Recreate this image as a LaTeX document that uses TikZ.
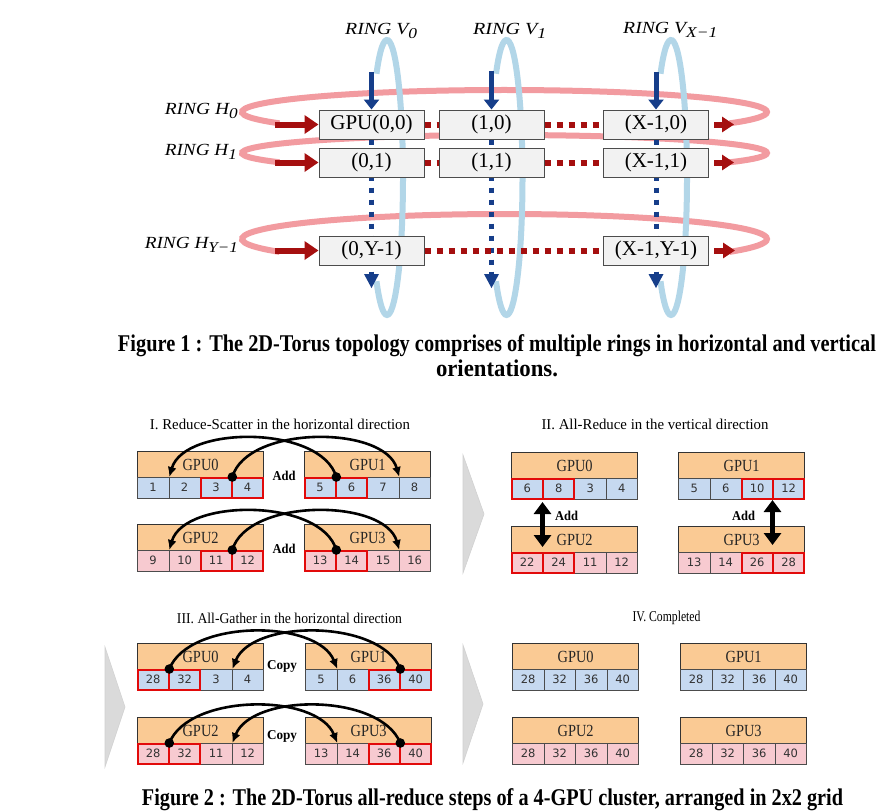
\documentclass[tikz,border=0pt]{standalone}
\usepackage{fontspec}
\usepackage{graphicx}
\setmainfont{Liberation Serif}
\newfontfamily\cellfont{DejaVu Sans}
\usetikzlibrary{arrows.meta,calc}
\definecolor{ringred}{RGB}{242,155,160}
\definecolor{ringblue}{RGB}{178,214,232}
\definecolor{darkred}{RGB}{165,15,15}
\definecolor{darkblue}{RGB}{22,62,138}
\definecolor{boxgray}{RGB}{242,242,242}
\definecolor{gpuorange}{RGB}{250,202,148}
\definecolor{cellblue}{RGB}{198,217,240}
\definecolor{cellpink}{RGB}{247,202,208}
\definecolor{cellred}{RGB}{226,10,10}
\definecolor{chevgray}{RGB}{218,218,218}
\pgfdeclarelayer{paper}
\pgfdeclarelayer{back}
\pgfdeclarelayer{mid}
\pgfsetlayers{paper,back,mid,main}
\newcommand{\fitw}[3]{\resizebox{#1pt}{\height}{\fontsize{#2}{#2}\selectfont #3}}
\newcommand{\rsub}[1]{\raisebox{-4.5pt}{\fontsize{15}{15}\selectfont\itshape #1}}
\newcommand{\gpulab}[1]{\resizebox{36pt}{\height}{\fontsize{17}{17}\selectfont #1}}
\newcommand{\gpublk}[6]{%
  \node[gpubox, anchor=north west] (#1) at (#2,#3) {\gpulab{#4}};
  \foreach \v/\r [count=\i] in {#6} {
    \node[cellbox, fill=#5, anchor=north west] (#1c\i) at ({#2+(\i-1)*31.5},{#3+26}) {\v};
  }
  \foreach \v/\r [count=\i] in {#6} {
    \ifnum\r=1\relax
      \draw[redcell] ([shift={(0.6pt,-0.6pt)}]#1c\i.north west) rectangle ([shift={(-0.6pt,0.6pt)}]#1c\i.south east);
    \fi
  }
}
\begin{document}
\begin{tikzpicture}[x=1pt,y=-1pt,
  gbox/.style={draw=black!70, fill=boxgray, line width=1pt, minimum width=105pt, minimum height=29pt, inner sep=0pt, font=\fontsize{21}{24}\selectfont},
  lbl/.style={inner sep=0pt},
  hring/.style={draw=ringred, line width=6pt},
  vring/.style={draw=ringblue, line width=6pt},
  redarrow/.style={draw=darkred, line width=6pt, -{Triangle[width=18pt,length=14pt]}},
  redarrowr/.style={draw=darkred, line width=6pt, -{Triangle[width=15pt,length=12pt]}},
  reddot/.style={draw=darkred, line width=6pt, dash pattern=on 6pt off 6pt},
  bluearrow/.style={draw=darkblue, line width=5pt, -{Triangle[width=15pt,length=10pt]}},
  bluedot/.style={draw=darkblue, line width=5pt, dash pattern=on 5pt off 7pt},
  gpubox/.style={draw=black!80, line width=1.2pt, fill=gpuorange, minimum width=126pt, minimum height=26pt, inner sep=0pt, text=black!85},
  cellbox/.style={draw=black!70, line width=0.8pt, minimum width=31.5pt, minimum height=20.5pt, inner sep=0pt, font=\cellfont\fontsize{11.5}{12}\selectfont, text=black!80},
  redcell/.style={draw=cellred, line width=1.8pt},
  arcarrow/.style={draw=black, line width=2.6pt, -{Latex[length=10pt,width=9pt]}},
  dblarrow/.style={draw=black, line width=5pt, {Triangle[width=17pt,length=12pt]}-{Triangle[width=17pt,length=12pt]}},
  chev/.style={fill=chevgray, draw=black!18, line width=0.6pt},
  ttl/.style={inner sep=0pt},
  bold/.style={inner sep=0pt, font=\bfseries}
]
\useasboundingbox (0,0) rectangle (893,811);
\begin{pgfonlayer}{paper}
  \fill[white] (0,0) rectangle (893,811);
\end{pgfonlayer}

% ================= Figure 1 =================
\begin{pgfonlayer}{back}
  % horizontal rings: open arcs running round the back, from the left arrow to the right arrow
  \draw[hring] (504.5,112) ++(149:262.5 and 22) arc[start angle=149, end angle=391, x radius=262.5, y radius=22];
  \draw[hring] (504.5,153) ++(149:262.5 and 18) arc[start angle=149, end angle=391, x radius=262.5, y radius=18];
  \draw[hring] (504.5,239) ++(149:262.5 and 25) arc[start angle=149, end angle=391, x radius=262.5, y radius=25];
  % vertical rings: open arcs, from the top arrow round the right side to the bottom arrowhead
  \draw[vring] (387,177.5) ++(-131:16 and 137.5) arc[start angle=-131, end angle=131, x radius=16, y radius=137.5];
  \draw[vring] (506.5,177.5) ++(-131:16 and 137.5) arc[start angle=-131, end angle=131, x radius=16, y radius=137.5];
  \draw[vring] (671,177.5) ++(-131:16 and 137.5) arc[start angle=-131, end angle=131, x radius=16, y radius=137.5];
\end{pgfonlayer}

\node[gbox] (b00) at (371.5,124.5) {GPU(0,0)};
\node[gbox] (b10) at (491.5,124.5) {(1,0)};
\node[gbox] (bX0) at (656,124.5) {(X-1,0)};
\node[gbox] (b01) at (371.5,162.5) {(0,1)};
\node[gbox] (b11) at (491.5,162.5) {(1,1)};
\node[gbox] (bX1) at (656,162.5) {(X-1,1)};
\node[gbox] (b0Y) at (371.5,250.5) {(0,Y-1)};
\node[gbox] (bXY) at (656,250.5) {(X-1,Y-1)};

% labels
\node[lbl, anchor=base west] (lv0) at (345,34) {\fitw{72}{17}{\itshape RING V\rsub{0}}};
\node[lbl, anchor=base west] (lv1) at (473,34) {\fitw{73}{17}{\itshape RING V\rsub{1}}};
\node[lbl, anchor=base west] (lvX) at (623,33) {\fitw{94}{17}{\itshape RING V\rsub{X−1}}};
\node[lbl, anchor=base east] (lh0) at (238,114) {\fitw{73}{17}{\itshape RING H\rsub{0}}};
\node[lbl, anchor=base east] (lh1) at (237,155) {\fitw{72}{17}{\itshape RING H\rsub{1}}};
\node[lbl, anchor=base east] (lhY) at (238,248) {\fitw{93}{17}{\itshape RING H\rsub{Y−1}}};

% vertical dotted connectors (behind boxes)
\coordinate (vb0) at (371.5,274);
\coordinate (vb1) at (491.5,274);
\coordinate (vbX) at (656,274);
\begin{pgfonlayer}{mid}
  \draw[bluedot] (b00.south) -- (vb0);
  \draw[bluedot] (b10.south) -- (vb1);
  \draw[bluedot] (bX0.south) -- (vbX);
\end{pgfonlayer}
\foreach \c in {vb0,vb1,vbX}{
  \fill[darkblue] (\c) ++(-7.5,0) -- ++(15,0) -- ++(-7.5,14) -- cycle;
}

% vertical top arrows
\coordinate (vt0) at (371.5,72);
\coordinate (vt1) at (491.5,71);
\coordinate (vtX) at (656,72);
\draw[bluearrow] (vt0) -- (b00.north);
\draw[bluearrow] (vt1) -- (b10.north);
\draw[bluearrow] (vtX) -- (bX0.north);

% horizontal dotted connectors
\draw[reddot] (b00.east) -- (b10.west);
\draw[reddot] (b10.east) -- (bX0.west);
\draw[reddot] (b01.east) -- (b11.west);
\draw[reddot] (b11.east) -- (bX1.west);
\draw[reddot] (b0Y.east) -- (bXY.west);

% horizontal arrows
\coordinate (le0) at (275,124.5);
\coordinate (le1) at (275,162.5);
\coordinate (leY) at (275,250.5);
\draw[redarrow] (le0) -- (b00.west);
\draw[redarrow] (le1) -- (b01.west);
\draw[redarrow] (leY) -- (b0Y.west);
\coordinate (re0) at (734,124.5);
\coordinate (re1) at (734,162.5);
\coordinate (reY) at (735,250.5);
\draw[redarrowr] ([xshift=5pt]bX0.east) -- (re0);
\draw[redarrowr] ([xshift=5pt]bX1.east) -- (re1);
\draw[redarrowr] ([xshift=5pt]bXY.east) -- (reY);

% caption 1
\node[lbl, anchor=base] (cap1a) at (497,351) {\fitw{758}{24}{\bfseries Figure 1 : The 2D-Torus topology comprises of multiple rings in horizontal and vertical}};
\node[lbl, anchor=base] (cap1b) at (497,376) {\fitw{122}{24}{\bfseries orientations.}};

% ================= Figure 2 =================
% chevrons
\path[chev] (463,455) -- (484,514) -- (463,573) -- cycle;
\path[chev] (105,647) -- (125,707) -- (105,767) -- cycle;
\path[chev] (463,645) -- (483,704) -- (463,763) -- cycle;

% titles
\node[ttl] (t1) at (280,424) {\fitw{260}{15}{I. Reduce-Scatter in the horizontal direction}};
\node[ttl] (t2) at (655,424) {\fitw{227}{15}{II. All-Reduce in the vertical direction}};
\node[ttl] (t3) at (289.5,618) {\fitw{225}{15}{III. All-Gather in the horizontal direction}};
\node[ttl] (t4) at (666.5,618) {\fitw{68}{15}{IV. Completed}};

% Panel I
\gpublk{AG0}{137}{451}{GPU0}{cellblue}{1/0,2/0,3/1,4/1}
\gpublk{AG1}{304}{451}{GPU1}{cellblue}{5/1,6/1,7/0,8/0}
\gpublk{AG2}{137}{524}{GPU2}{cellpink}{9/0,10/0,11/1,12/1}
\gpublk{AG3}{304}{524}{GPU3}{cellpink}{13/1,14/1,15/0,16/0}
% Panel II
\gpublk{BG0}{511}{452}{GPU0}{cellblue}{6/1,8/1,3/0,4/0}
\gpublk{BG1}{678}{452}{GPU1}{cellblue}{5/0,6/0,10/1,12/1}
\gpublk{BG2}{511}{526}{GPU2}{cellpink}{22/1,24/1,11/0,12/0}
\gpublk{BG3}{678}{526}{GPU3}{cellpink}{13/0,14/0,26/1,28/1}
% Panel III
\gpublk{CG0}{137}{643}{GPU0}{cellblue}{28/1,32/1,3/0,4/0}
\gpublk{CG1}{305}{643}{GPU1}{cellblue}{5/0,6/0,36/1,40/1}
\gpublk{CG2}{137}{717}{GPU2}{cellpink}{28/1,32/1,11/0,12/0}
\gpublk{CG3}{305}{717}{GPU3}{cellpink}{13/0,14/0,36/1,40/1}
% Panel IV
\gpublk{DG0}{512}{643}{GPU0}{cellblue}{28/0,32/0,36/0,40/0}
\gpublk{DG1}{680}{643}{GPU1}{cellblue}{28/0,32/0,36/0,40/0}
\gpublk{DG2}{512}{717}{GPU2}{cellpink}{28/0,32/0,36/0,40/0}
\gpublk{DG3}{680}{717}{GPU3}{cellpink}{28/0,32/0,36/0,40/0}

% Panel I arcs
\draw[arcarrow] (AG0c3.north east) .. controls +(15,-52) and +(-15,-52) .. (AG1c3.north east);
\draw[arcarrow] (AG1c1.north east) .. controls +(-15,-52) and +(15,-52) .. (AG0c1.north east);
\fill (AG0c3.north east) circle[radius=4.8];
\fill (AG1c1.north east) circle[radius=4.8];
\draw[arcarrow] (AG2c3.north east) .. controls +(15,-52) and +(-15,-52) .. (AG3c3.north east);
\draw[arcarrow] (AG3c1.north east) .. controls +(-15,-52) and +(15,-52) .. (AG2c1.north east);
\fill (AG2c3.north east) circle[radius=4.8];
\fill (AG3c1.north east) circle[radius=4.8];
\node[bold] (add1) at (284,476) {\fitw{23}{13.5}{Add}};
\node[bold] (add2) at (284,549) {\fitw{23}{13.5}{Add}};

% Panel II arrows
\coordinate (dl1) at (542.5,502);
\coordinate (dl2) at (542.5,547);
\coordinate (dr1) at (772.5,500);
\coordinate (dr2) at (772.5,545);
\draw[dblarrow] (dl1) -- (dl2);
\draw[dblarrow] (dr1) -- (dr2);
\node[bold] (add3) at (566.5,516) {\fitw{23}{13.5}{Add}};
\node[bold] (add4) at (743.5,516) {\fitw{23}{13.5}{Add}};

% Panel III arcs
\draw[arcarrow] (CG0c1.north east) .. controls +(20,-50) and +(-20,-50) .. (CG1c1.north east);
\draw[arcarrow] (CG1c3.north east) .. controls +(-20,-50) and +(20,-50) .. (CG0c3.north east);
\fill (CG0c1.north east) circle[radius=4.8];
\fill (CG1c3.north east) circle[radius=4.8];
\draw[arcarrow] (CG2c1.north east) .. controls +(20,-50) and +(-20,-50) .. (CG3c1.north east);
\draw[arcarrow] (CG3c3.north east) .. controls +(-20,-50) and +(20,-50) .. (CG2c3.north east);
\fill (CG2c1.north east) circle[radius=4.8];
\fill (CG3c3.north east) circle[radius=4.8];
\node[bold] (copy1) at (282,666) {\fitw{30}{13.5}{Copy}};
\node[bold] (copy2) at (282,736) {\fitw{30}{13.5}{Copy}};

% caption 2
\node[lbl, anchor=base] (cap2) at (492.5,805) {\fitw{701}{24}{\bfseries Figure 2 : The 2D-Torus all-reduce steps of a 4-GPU cluster, arranged in 2x2 grid}};
\end{tikzpicture}
\end{document}
